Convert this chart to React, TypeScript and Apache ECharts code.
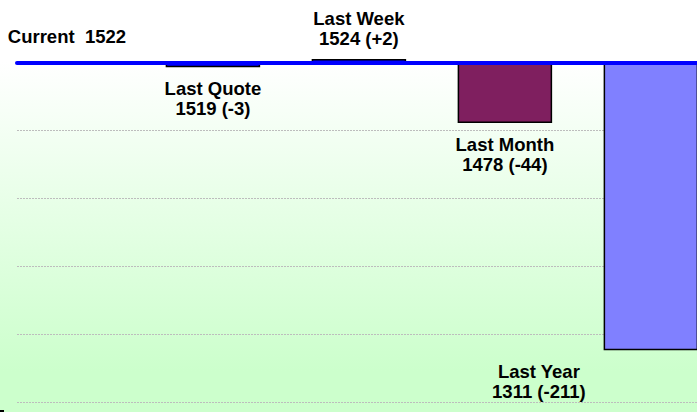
import React, { useEffect, useRef } from "react";
import * as echarts from "echarts";

const categories = ["Current", "Last Quote", "Last Week", "Last Month", "Last Year"];
const values = [1522, 1519, 1524, 1478, 1311];
const barColors = ["#0000ff", "#0000ff", "#0000ff", "#7f1f5f", "#8080ff"];
const currentValue = values[0];
const yMin = -250;
const yMax = 0;
const yStep = 50;

const FONT = "'Liberation Sans', Arial, Helvetica, sans-serif";

export default function App() {
  const ref = useRef<HTMLDivElement>(null);

  useEffect(() => {
    document.body.style.margin = "0";
    if (!ref.current) return;
    const chart = echarts.init(ref.current, null, { renderer: "svg" });
    const data = values.map((v, i) => [i, v - currentValue]);

    const option: any = {
      animation: false,
      backgroundColor: "transparent",
      grid: { left: 17, right: 0, top: 62.5, bottom: 9.5 },
      xAxis: {
        type: "value",
        min: -0.342,
        max: 4.316,
        position: "top",
        z: 10,
        axisLine: { show: true, onZero: false, lineStyle: { color: "#0000ff", width: 4 } },
        axisTick: { show: false },
        axisLabel: { show: false },
        splitLine: { show: false },
      },
      yAxis: {
        type: "value",
        min: yMin,
        max: yMax,
        interval: yStep,
        axisLine: { show: false },
        axisTick: { show: false },
        axisLabel: { show: false },
        splitLine: { show: true, lineStyle: { color: "#bdbdbd", type: [2, 1], width: 1 } },
      },
      graphic: [
        { type: "rect", shape: { x: 0, y: 410, width: 4, height: 2 }, style: { fill: "#000" } },
      ],
      series: [
        {
          type: "custom",
          data,
          clip: false,
          renderItem: (params: any, api: any) => {
            const i = api.value(0);
            const d = api.value(1);
            const base = api.coord([i, 0]);
            const end = api.coord([i, d]);
            const w = api.size([0.637, 0])[0];
            const v = values[i];
            const children: any[] = [];
            if (d !== 0) {
              const top = Math.min(base[1], end[1]);
              const h = Math.abs(end[1] - base[1]);
              children.push({
                type: "rect",
                shape: { x: base[0] - w / 2, y: top, width: w, height: h },
                style: { fill: barColors[i], stroke: "#000", lineWidth: 1.5 },
              });
            }
            let text: string;
            let ty: number;
            let va: string;
            if (i === 0) {
              text = `Current  ${v}`;
              ty = base[1] - 16;
              va = "bottom";
            } else {
              const sign = d > 0 ? "+" : "";
              text = `${categories[i]}\n${v} (${sign}${d})`;
              if (d > 0) {
                ty = end[1] - 11;
                va = "bottom";
              } else {
                ty = end[1] + 12;
                va = "top";
              }
            }
            const shiftX = i === values.length - 1 ? -112 : 0;
            children.push({
              type: "text",
              x: base[0] + shiftX,
              y: ty,
              style: {
                text,
                fill: "#000",
                font: `bold 18.5px ${FONT}`,
                fontFamily: FONT,
                fontWeight: "bold",
                fontSize: 18.5,
                lineHeight: 20,
                align: "center",
                verticalAlign: va,
              },
            });
            return { type: "group", children };
          },
        },
      ],
    };
    chart.setOption(option);
    return () => chart.dispose();
  }, []);

  return (
    <div
      style={{
        position: "absolute",
        left: 0,
        top: 0,
        width: 697,
        height: 412,
        background: "linear-gradient(to bottom, #ffffff 0%, #ffffff 15%, #ccffcc 90%, #ccffcc 100%)",
      }}
    >
      <div ref={ref} style={{ width: 697, height: 412 }} />
    </div>
  );
}
